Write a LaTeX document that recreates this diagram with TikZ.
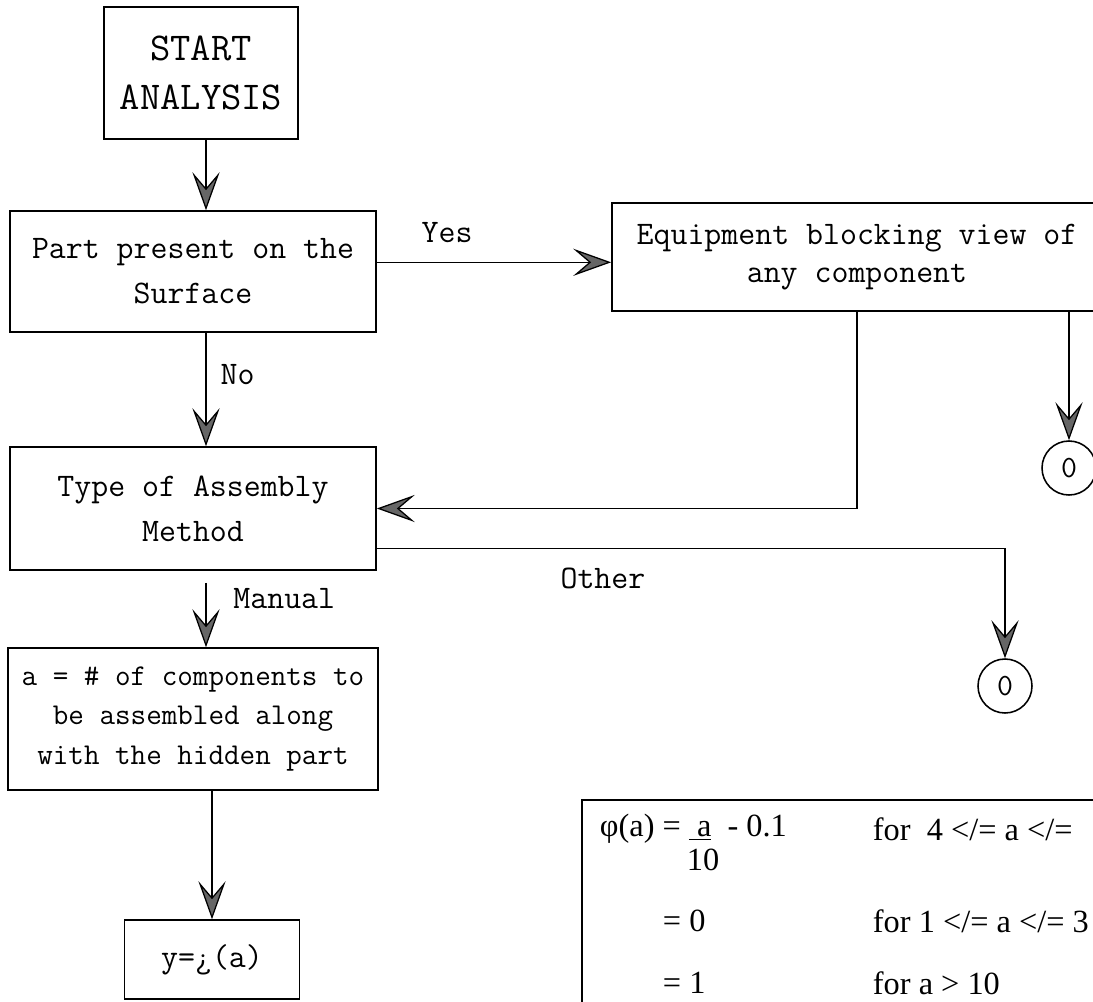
\documentclass[tikz,border=0pt]{standalone}
\usepackage{fontspec}
\setmainfont{Liberation Serif}
\usetikzlibrary{arrows.meta,positioning}

\begin{document}
\begin{tikzpicture}[x=0.025cm,y=-0.025cm,>={Stealth[length=9.5mm,width=6.8mm,inset=4mm,fill=black!60]},
every node/.style={font=\ttfamily\fontsize{23.4}{32}\selectfont},
box/.style={draw,line width=1.1pt,align=center,inner sep=0pt},
flow/.style={->,line width=0.9pt},
lbl/.style={inner sep=2pt},
term/.style={draw,circle,line width=1.1pt,minimum size=1.35cm,inner sep=0pt,font=\ttfamily\fontsize{22}{24}\selectfont},
tbl/.style={font=\rmfamily\fontsize{23}{27}\selectfont,anchor=west}]
\fill[white] (0,0) rectangle (1093,1001);
\useasboundingbox (0,0) rectangle (1093,1001);
\clip (0,0) rectangle (1093,1001);
% boxes of the chart
\node[box,minimum width=4.85cm,minimum height=3.3cm,font=\ttfamily\fontsize{28}{35}\selectfont] (start) at (201,73) {START\\ANALYSIS};
\node[box,minimum width=9.15cm,minimum height=3.025cm] (part) at (193,271.5) {Part present on the\\Surface};
\node[box,minimum width=12.25cm,minimum height=2.7cm,font=\ttfamily\fontsize{23.4}{27.5}\selectfont] (equip) at (857,257) {Equipment blocking view of\\any component};
\node[box,minimum width=9.15cm,minimum height=3.075cm] (type) at (193,508.5) {Type of Assembly\\Method};
\node[box,minimum width=9.25cm,minimum height=3.55cm,font=\ttfamily\fontsize{21.5}{28}\selectfont] (abox) at (193,719) {a = \# of components to\\be assembled along\\with the hidden part};
\node[box,minimum width=4.375cm,minimum height=1.975cm] (ybox) at (212,959.5) {y=¿(a)};
\node[term] (end1) at (1069,468) {0};
\node[term] (end2) at (1005,686) {0};
% connectors
\draw[flow] (start.south -| part.north) ++(13,0) coordinate (s1) -- (s1 |- part.north);
\draw[flow] ([yshift=2.3mm]part.east) -- node[lbl,pos=0.3,above=4mm] {Yes} ([yshift=2.3mm]part.east -| equip.west);
\draw[flow] (part.south -| s1) -- node[lbl,pos=0.37,right=2.8mm] {No} (type.north -| s1);
\draw[flow] (equip.south) |- (type.east);
\draw[flow] (end1 |- equip.south) -- (end1);
\draw[flow] ([yshift=-1cm]type.east) -| node[lbl,pos=0.18,below=4mm] {Other} (end2);
\draw[flow] ([yshift=-3mm]type.south -| s1) -- node[lbl,pos=0.24,right=6mm] {Manual} (abox.north -| s1);
\draw[flow] (abox.south -| ybox) -- (ybox);
% phi table
\draw[line width=1.1pt] (582,800) rectangle (1140,1050);
\node[tbl] (phi) at (595,829) {φ(a) = \underline{\ a}\ \ - 0.1};
\node[tbl,anchor=center] (den) at (703,860) {10};
\node[tbl] (zero) at (658,921) {= 0};
\node[tbl] (one) at (658,983) {= 1};
\node[tbl] (row1) at (868,829) {for\ \ 4 </= a </=};
\node[tbl] (row2) at (868,921) {for 1 </= a </= 3};
\node[tbl] (row3) at (868,983) {for a > 10};
\end{tikzpicture}
\end{document}
